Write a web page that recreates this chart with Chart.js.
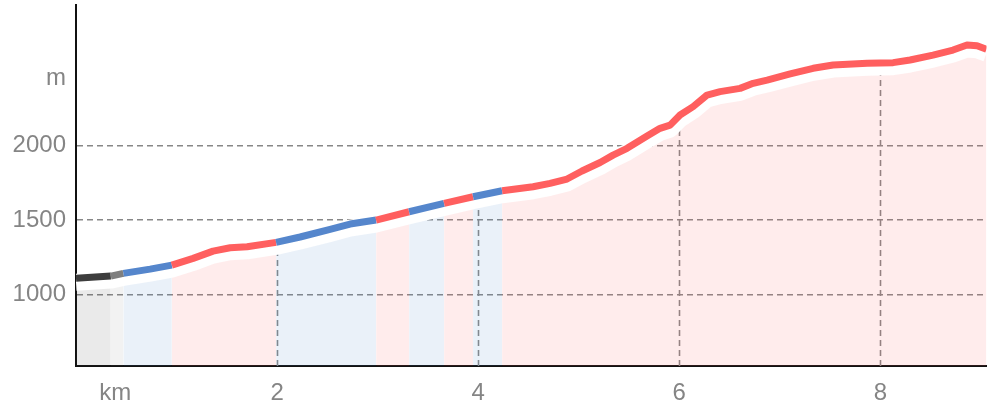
<!DOCTYPE html>
<html>
<head>
<meta charset="utf-8">
<script src="https://cdn.jsdelivr.net/npm/chart.js@4.4.0/dist/chart.umd.min.js"></script>
<style>
  html, body { margin: 0; padding: 0; background: #fff; }
  canvas { display: block; }
</style>
</head>
<body>
<canvas id="profile" width="995" height="409" style="width:995px;height:409px"></canvas>
<script>
// Höhenprofil: Distanz in km, Höhe in m
const distKm = [0.00, 0.346, 0.471, 0.737, 0.953, 1.165, 1.363, 1.533, 1.702, 1.990,
                2.229, 2.527, 2.726, 2.985, 3.313, 3.661, 3.949, 4.238, 4.546, 4.715,
                4.884, 5.033, 5.213, 5.342, 5.481, 5.680, 5.809, 5.909, 6.008, 6.138,
                6.277, 6.406, 6.605, 6.735, 6.874, 7.103, 7.332, 7.530, 7.869, 8.127,
                8.296, 8.524, 8.723, 8.862, 8.962, 9.056];
const elevM = [1108, 1123, 1141, 1170, 1197, 1242, 1291, 1314, 1320, 1350,
               1386, 1437, 1473, 1500, 1556, 1612, 1657, 1697, 1724, 1747,
               1776, 1830, 1887, 1937, 1983, 2065, 2117, 2139, 2207, 2263,
               2341, 2364, 2386, 2420, 2442, 2483, 2521, 2543, 2555, 2559,
               2577, 2610, 2644, 2678, 2673, 2649];

// Abschnitte (Ende in km) und Typ
const segEnds  = [0.346, 0.471, 0.953, 1.990, 2.985, 3.313, 3.661, 3.949, 4.238, 9.056];
const segTypes = ['dark', 'gray', 'blue', 'red', 'blue', 'red', 'blue', 'red', 'blue', 'red'];

const xTicks = [0.39, 2, 4, 6, 8];
const xTickLabels = ['km', '2', '4', '6', '8'];
const xGridValues = [2, 4, 6, 8];
const yTicks = [1000, 1500, 2000, 2450];
const yTickLabels = ['1000', '1500', '2000', 'm'];

const lineColors = { dark: '#3d3d3d', gray: '#7f7f7f', blue: '#5586cc', red: '#ff5f5f' };
const fillColors = {
  dark: 'rgba(64,64,64,0.11)',
  gray: 'rgba(128,128,128,0.10)',
  blue: 'rgba(85,136,204,0.12)',
  red:  'rgba(255,96,96,0.12)'
};
const gridColor = '#878787';

const points = distKm.map((d, i) => ({ x: d, y: elevM[i] }));

function segType(ctx) {
  const mid = (ctx.p0.parsed.x + ctx.p1.parsed.x) / 2;
  for (let i = 0; i < segEnds.length; i++) {
    if (mid <= segEnds[i]) return segTypes[i];
  }
  return segTypes[segTypes.length - 1];
}

// weisse Schattenlinie leicht nach unten verschieben
const shiftPlugin = {
  id: 'shiftY',
  beforeDatasetDraw(chart, args) {
    const s = chart.data.datasets[args.index].shiftY;
    if (s) { chart.ctx.save(); chart.ctx.translate(0, s); }
  },
  afterDatasetDraw(chart, args) {
    if (chart.data.datasets[args.index].shiftY) chart.ctx.restore();
  }
};

// senkrechte Gitterlinien nur bis zur Kurve
const vGridPlugin = {
  id: 'vGrid',
  beforeDatasetsDraw(chart) {
    const ctx = chart.ctx;
    const xs = chart.scales.x, ys = chart.scales.y;
    const bottom = chart.chartArea.bottom;
    ctx.save();
    ctx.strokeStyle = gridColor;
    ctx.lineWidth = 1.6;
    ctx.setLineDash([6, 4]);
    xGridValues.forEach(v => {
      let e = elevM[elevM.length - 1];
      for (let i = 1; i < distKm.length; i++) {
        if (v <= distKm[i]) {
          const t = (v - distKm[i - 1]) / (distKm[i] - distKm[i - 1]);
          e = elevM[i - 1] + t * (elevM[i] - elevM[i - 1]);
          break;
        }
      }
      const px = Math.round(xs.getPixelForValue(v)) + 0.5;
      ctx.beginPath();
      ctx.moveTo(px, bottom);
      ctx.lineTo(px, ys.getPixelForValue(e));
      ctx.stroke();
    });
    ctx.restore();
  }
};

new Chart(document.getElementById('profile'), {
  type: 'line',
  data: {
    datasets: [
      {
        data: points,
        borderWidth: 7,
        borderColor: lineColors.red,
        borderCapStyle: 'butt',
        borderJoinStyle: 'round',
        pointRadius: 0,
        fill: false,
        segment: { borderColor: ctx => lineColors[segType(ctx)] }
      },
      {
        data: points,
        borderWidth: 17,
        borderColor: '#ffffff',
        borderJoinStyle: 'round',
        pointRadius: 0,
        fill: false,
        shiftY: 4
      },
      {
        data: points,
        borderWidth: 0,
        borderColor: 'rgba(0,0,0,0)',
        pointRadius: 0,
        fill: 'start',
        backgroundColor: fillColors.red,
        segment: { backgroundColor: ctx => fillColors[segType(ctx)] }
      }
    ]
  },
  options: {
    responsive: false,
    animation: false,
    layout: { padding: { top: 5, right: 8.5, left: 0, bottom: 0 } },
    plugins: { legend: { display: false }, tooltip: { enabled: false } },
    scales: {
      x: {
        type: 'linear',
        min: 0,
        max: 9.056,
        afterBuildTicks: scale => { scale.ticks = xTicks.map(v => ({ value: v })); },
        afterFit: scale => { scale.height = 43; scale.paddingLeft = 0; scale.paddingRight = 0; },
        grid: { display: false, drawTicks: false },
        border: { display: true, color: '#111', width: 2 },
        ticks: {
          autoSkip: false,
          maxRotation: 0,
          padding: 13,
          color: '#858585',
          font: { family: 'Liberation Sans, Arial, sans-serif', size: 24 },
          callback: (v, i) => xTickLabels[i]
        }
      },
      y: {
        min: 518,
        max: 2947,
        afterBuildTicks: scale => { scale.ticks = yTicks.map(v => ({ value: v })); },
        afterFit: scale => { scale.width = 76; scale.paddingTop = 0; scale.paddingBottom = 0; },
        grid: {
          drawTicks: false,
          lineWidth: 1.6,
          color: ctx => (ctx.tick && ctx.tick.value === 2450) ? 'rgba(0,0,0,0)' : gridColor
        },
        border: { display: true, color: '#111', width: 2, dash: [6, 4] },
        ticks: {
          autoSkip: false,
          padding: 10,
          color: '#858585',
          font: { family: 'Liberation Sans, Arial, sans-serif', size: 24 },
          callback: (v, i) => yTickLabels[i]
        }
      }
    }
  },
  plugins: [shiftPlugin, vGridPlugin]
});
</script>
</body>
</html>
